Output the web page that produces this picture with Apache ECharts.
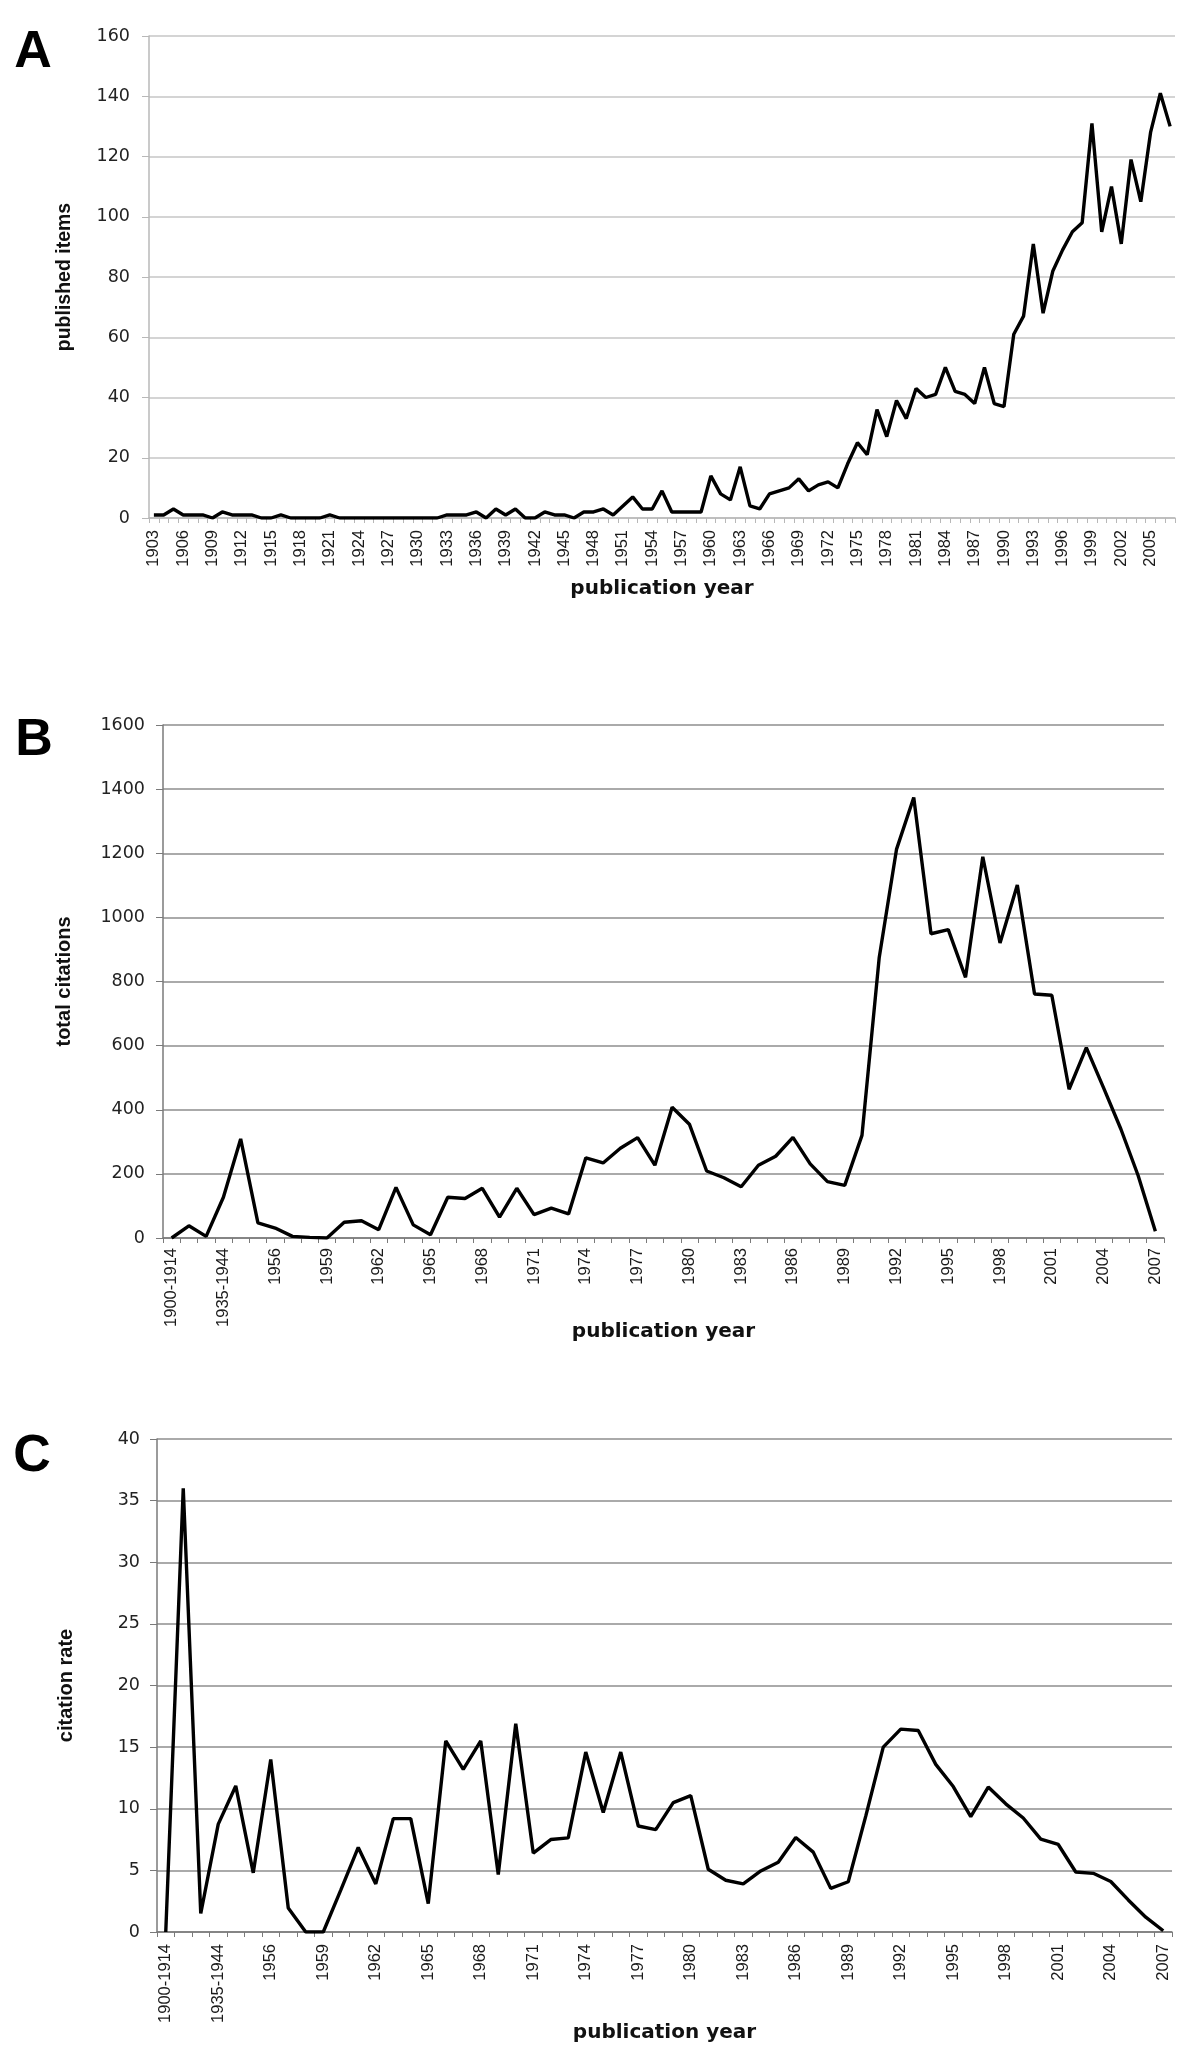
<!DOCTYPE html>
<html><head><meta charset="utf-8">
<script src="https://cdn.jsdelivr.net/npm/echarts@6/dist/echarts.min.js"></script>
<style>html,body{margin:0;padding:0;background:#fff}#c{width:1200px;height:2064px}</style>
</head><body><div id="c"></div>
<script>
// ---------- DATA ----------
const yearsA = ['1903','1904','1905','1906','1907','1908','1909','1910','1911','1912','1913','1914','1915','1916','1917','1918','1919','1920','1921','1922','1923','1924','1925','1926','1927','1928','1929','1930','1931','1932','1933','1934','1935','1936','1937','1938','1939','1940','1941','1942','1943','1944','1945','1946','1947','1948','1949','1950','1951','1952','1953','1954','1955','1956','1957','1958','1959','1960','1961','1962','1963','1964','1965','1966','1967','1968','1969','1970','1971','1972','1973','1974','1975','1976','1977','1978','1979','1980','1981','1982','1983','1984','1985','1986','1987','1988','1989','1990','1991','1992','1993','1994','1995','1996','1997','1998','1999','2000','2001','2002','2003','2004','2005','2006','2007'];
const publishedItems = [1,1,3,1,1,1,0,2,1,1,1,0,0,1,0,0,0,0,1,0,
  0,0,0,0,0,0,0,0,0,0,
  1,1,1,2,0,3,1,3,0,0,2,1,1,0,2,2,3,1,4,7,3,3,9,2,2,2,2,14,8,6,17,4,3,8,9,10,13,9,11,12,10,18,25,21,36,27,39,33,43,40,41,50,42,41,38,50,38,37,61,67,91,68,82,89,95,98,131,95,110,91,119,105,128,141,130];

const periodsBC = ['1900-1914','1915-1924','1925-1934','1935-1944','1945-1954','1955','1956','1957','1958','1959','1960','1961','1962','1963','1964','1965','1966','1967','1968','1969','1970','1971','1972','1973','1974','1975','1976','1977','1978','1979','1980','1981','1982','1983','1984','1985','1986','1987','1988','1989','1990','1991','1992','1993','1994','1995','1996','1997','1998','1999','2000','2001','2002','2003','2004','2005','2006','2007'];
const totalCitations = [0,38,5,127,309,47,31,5,2,0,49,54,26,158,41,10,127,123,155,65,155,73,93,75,250,234,280,313,227,408,355,209,188,160,227,255,314,231,176,164,320,875,1212,1374,949,962,813,1189,920,1101,761,757,464,594,468,340,195,21];
const citationRate = [0,36,1.5,8.75,11.85,4.8,14,1.95,0,0,3.4,6.86,3.9,9.2,9.2,2.3,15.5,13.2,15.5,4.66,16.9,6.4,7.5,7.64,14.6,9.7,14.6,8.6,8.3,10.5,11.07,5.09,4.2,3.9,4.95,5.66,7.67,6.48,3.54,4.08,9.4,15.0,16.46,16.35,13.6,11.8,9.36,11.76,10.4,9.25,7.54,7.1,4.87,4.76,4.1,2.6,1.2,0.1];

const yTicksA = [0,20,40,60,80,100,120,140,160];
const yTicksB = [0,200,400,600,800,1000,1200,1400,1600];
const yTicksC = [0,5,10,15,20,25,30,35,40];

const panelLetters = ['A','B','C'];
const xNames = ['publication year','publication year','publication year'];
const yNames = ['published items','total citations','citation rate'];

// ---------- CHART ----------
const chart = echarts.init(document.getElementById('c'), null, {renderer:'canvas'});

const grids = [
  {left:149, top:36, width:1026, height:482},
  {left:163, top:725, width:1001, height:513},
  {left:157, top:1439, width:1015, height:493}
];
const gridColor = ['#c6c6c6','#8e8e8e','#8e8e8e'];
const axisColor = ['#b8b8b8','#7a7a7a','#7a7a7a'];
const xLabelMargin = [12,10,12];
const xNameGap = [61,84,91];
const yNameGap = [74,89,81];
const yNameSize = [19.5,20,20];
const yLabelMargin = [19,18,17];

function xAxis(i, cats){
  return {
    type:'category', gridIndex:i, data:cats, boundaryGap:true,
    axisLine:{show:true, lineStyle:{color:axisColor[i], width:1.5}},
    axisTick:{show:true, interval:0, length:5, lineStyle:{color:axisColor[i], width:1}},
    axisLabel:{interval:2, rotate:90, margin:xLabelMargin[i], fontFamily:'Liberation Sans', fontSize:16.5, color:'#1a1a1a'},
    splitLine:{show:false},
    name:xNames[i], nameLocation:'middle', nameGap:xNameGap[i], nameMoveOverlap:false,
    nameTextStyle:{fontFamily:'DejaVu Sans', fontWeight:'bold', fontSize:20, color:'#111'}
  };
}
function yAxis(i, ticks){
  return {
    type:'value', gridIndex:i, min:ticks[0], max:ticks[ticks.length-1], interval:ticks[1]-ticks[0],
    axisLine:{show:true, lineStyle:{color:axisColor[i], width:1.5}},
    axisTick:{show:true, length:7, lineStyle:{color:axisColor[i], width:1}},
    axisLabel:{margin:yLabelMargin[i], fontFamily:'DejaVu Sans', fontSize:17.5, color:'#222', formatter:(v)=>String(v)},
    splitLine:{show:true, lineStyle:{color:gridColor[i], width:1.5}},
    name:yNames[i], nameLocation:'middle', nameGap:yNameGap[i], nameRotate:90, nameMoveOverlap:false,
    nameTextStyle:{fontFamily:'Liberation Sans', fontWeight:'bold', fontSize:yNameSize[i], color:'#111'}
  };
}
function lineSeries(i, data){
  return {type:'line', xAxisIndex:i, yAxisIndex:i, data:data, showSymbol:false, symbol:'none',
    lineStyle:{color:'#000', width:3.4}, silent:true};
}

const letterPos = [[33,53],[34,741],[32,1457]];
chart.setOption({
  animation:false,
  backgroundColor:'#fff',
  grid:grids,
  xAxis:[xAxis(0, yearsA), xAxis(1, periodsBC), xAxis(2, periodsBC)],
  yAxis:[yAxis(0, yTicksA), yAxis(1, yTicksB), yAxis(2, yTicksC)],
  series:[lineSeries(0, publishedItems), lineSeries(1, totalCitations), lineSeries(2, citationRate)],
  graphic: panelLetters.map((t,k)=>({
    type:'text', x:letterPos[k][0], y:letterPos[k][1],
    style:{text:t, fill:'#000', font:'bold 52px "Liberation Sans", Arial, sans-serif', textAlign:'center', textVerticalAlign:'middle'}
  }))
});
</script>
</body></html>
